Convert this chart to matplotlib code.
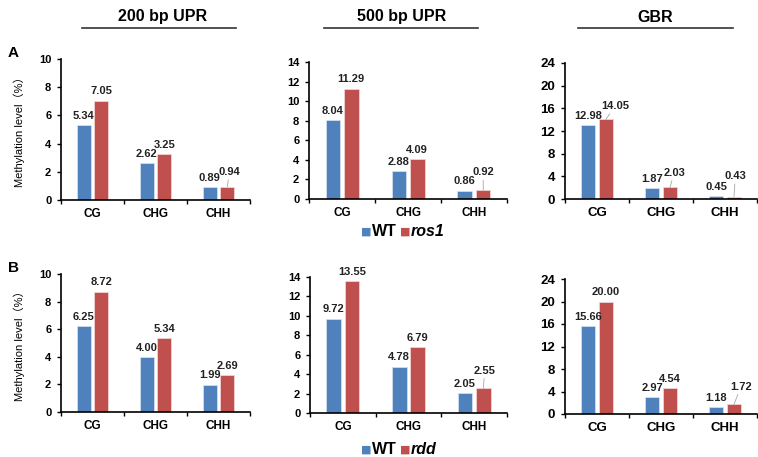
import matplotlib.pyplot as plt
import numpy as np

plt.rcParams['font.family'] = ['Liberation Sans', 'DejaVu Sans']

categories = ['CG', 'CHG', 'CHH']
region_titles = ['200 bp UPR', '500 bp UPR', 'GBR']
mutants = ['ros1', 'rdd']

wt_a = [[5.34, 2.62, 0.89], [8.04, 2.88, 0.86], [12.98, 1.87, 0.45]]
ros1_a = [[7.05, 3.25, 0.94], [11.29, 4.09, 0.92], [14.05, 2.03, 0.43]]
wt_b = [[6.25, 4.00, 1.99], [9.72, 4.78, 2.05], [15.66, 2.97, 1.18]]
rdd_b = [[8.72, 5.34, 2.69], [13.55, 6.79, 2.55], [20.00, 4.54, 1.72]]

y_max = [10, 14, 24]
y_step = [2, 2, 4]

blue = '#4F81BD'
red = '#C0504D'

# axes boxes in pixels: left, top(y of max), right, bottom(y of 0)
boxes = [
    [(61, 59, 250, 200), (309, 62, 507, 199), (565, 63, 757, 199)],
    [(61, 274, 250, 412), (310, 277, 507, 413), (565, 279, 757, 414)],
]

# label offsets (points) for labels with leader lines: (row, panel, cat) -> (dx, dy)
leaders = {
    (0, 0, 2): (1.5, 7), (0, 1, 2): (0, 9),
    (0, 2, 0): (6.5, 6), (0, 2, 1): (3, 7), (0, 2, 2): (1, 11),
    (1, 1, 2): (1, 9), (1, 2, 2): (5, 9),
}

W, H = 758, 457
fig = plt.figure(figsize=(W / 100, H / 100), dpi=100)

x = np.arange(len(categories))
bw = 0.22
off = 0.14
lab_kw = dict(textcoords='offset points', ha='center', va='bottom',
              fontsize=8, fontweight='bold', color='#222222')

for r, (wt_rows, mut_rows) in enumerate([(wt_a, ros1_a), (wt_b, rdd_b)]):
    for p in range(3):
        l, t, rr, b = boxes[r][p]
        ax = fig.add_axes([l / W, (H - b) / H, (rr - l) / W, (b - t) / H])
        wt = wt_rows[p]
        mu = mut_rows[p]
        ax.bar(x - off, wt, bw, color=blue, edgecolor='#dbe5f1', linewidth=0.5)
        ax.bar(x + off, mu, bw, color=red, edgecolor='#f2dcdb', linewidth=0.5)
        big = p == 2
        for i in range(3):
            ax.annotate(f'{wt[i]:.2f}', (x[i] - off, wt[i]), xytext=(0, 3), **lab_kw)
            key = (r, p, i)
            if key in leaders:
                ax.annotate(f'{mu[i]:.2f}', (x[i] + off, mu[i]), xytext=leaders[key],
                            arrowprops=dict(arrowstyle='-', color='#a6a6a6', lw=0.6,
                                            shrinkA=0, shrinkB=0), **lab_kw)
            else:
                ax.annotate(f'{mu[i]:.2f}', (x[i] + off, mu[i]), xytext=(0, 3), **lab_kw)
        ax.set_xlim(-0.5, 2.5)
        ax.set_ylim(0, y_max[p])
        ax.set_yticks(np.arange(0, y_max[p] + 1, y_step[p]))
        ax.set_xticks(x)
        ax.set_xticklabels(categories, fontweight='bold', fontsize=9.5 if big else 8.5)
        ax.set_xticks([-0.5, 0.5, 1.5, 2.5], minor=True)
        ax.tick_params(axis='x', which='major', length=0, pad=6)
        ax.tick_params(axis='x', which='minor', length=3, width=1, direction='out')
        ax.tick_params(axis='y', length=3, width=1, direction='out',
                       labelsize=9.5 if big else 8, pad=4)
        for lab in ax.get_yticklabels():
            lab.set_fontweight('bold')
        for s in ['top', 'right']:
            ax.spines[s].set_visible(False)
        ax.spines['left'].set_linewidth(1.2)
        ax.spines['bottom'].set_linewidth(1.2)
        if p == 0:
            ax.set_ylabel('Methylation level（%）', fontsize=8,
                          family=['Liberation Sans', 'Noto Sans CJK SC'], labelpad=10)

# column titles with rule lines
title_x = [163, 402, 655]
rule_x = [(82, 236), (324, 478), (578, 733)]
for i in range(3):
    fig.text(title_x[i] / W, 1 - 17 / H, region_titles[i], ha='center', va='center',
             fontsize=11.5, fontweight='bold')
    fig.add_artist(plt.Line2D([rule_x[i][0] / W, rule_x[i][1] / W],
                              [1 - 28 / H, 1 - 28 / H], color='#333333', lw=1.2))

fig.text(8 / W, 1 - 53 / H, 'A', fontsize=11, fontweight='bold', va='center')
fig.text(8 / W, 1 - 268 / H, 'B', fontsize=11, fontweight='bold', va='center')

# legends
for yy, mname in [(232, mutants[0]), (450, mutants[1])]:
    fy = 1 - yy / H
    fig.text(366 / W, fy, '■', color=blue, fontsize=8, ha='center', va='center',
             family='DejaVu Sans')
    fig.text(372 / W, fy, 'WT', fontsize=11.5, fontweight='bold', va='center')
    fig.text(405 / W, fy, '■', color=red, fontsize=8, ha='center', va='center',
             family='DejaVu Sans')
    fig.text(411 / W, fy, mname, fontsize=11.5, fontweight='bold', style='italic',
             va='center')

fig.savefig('out.png', dpi=100)
